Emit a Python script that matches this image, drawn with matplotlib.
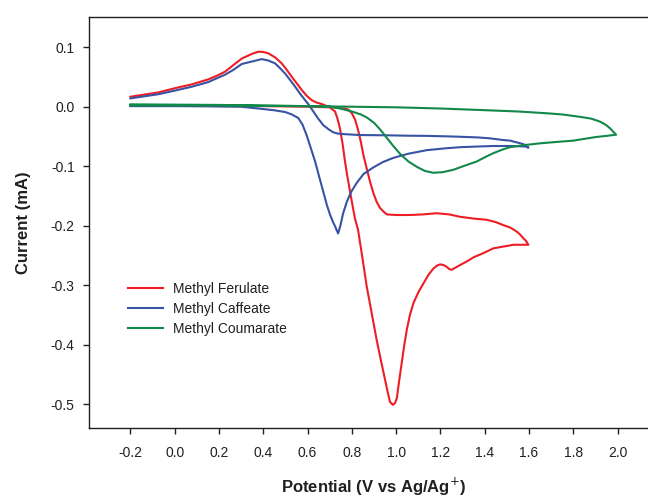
import matplotlib
matplotlib.use("Agg")
import matplotlib.pyplot as plt

# ---------------- data ----------------
ferulate_potential = [
    -0.20, 0.00, 0.20, 0.40, 0.60, 0.700, 0.724, 0.735, 0.746, 0.758, 0.769, 0.780,
    0.792, 0.803, 0.814, 0.828, 0.848, 0.867, 0.890, 0.912, 0.932, 0.950, 0.962,
    0.972, 0.985, 0.995, 1.003, 1.013, 1.025, 1.036, 1.048, 1.062, 1.078, 1.100,
    1.123, 1.145, 1.168, 1.185, 1.198, 1.213, 1.228, 1.240, 1.251, 1.270, 1.289,
    1.319, 1.350, 1.394, 1.439, 1.469, 1.500, 1.529, 1.560, 1.597,
    1.585, 1.574, 1.560, 1.545, 1.515, 1.484, 1.450, 1.409, 1.350, 1.289, 1.240,
    1.183, 1.120, 1.063, 1.000, 0.958, 0.942, 0.927, 0.912, 0.897, 0.882, 0.867,
    0.852, 0.841, 0.830, 0.815, 0.800, 0.785, 0.769, 0.740, 0.705, 0.680, 0.664,
    0.641, 0.619, 0.597, 0.574, 0.552, 0.529, 0.506, 0.483, 0.453, 0.423, 0.400,
    0.378, 0.350, 0.303, 0.265, 0.228, 0.190, 0.152, 0.077, 0.000, -0.074, -0.200,
]
ferulate_current = [
    0.002, 0.002, 0.001, 0.001, 0.000, -0.001, -0.008, -0.020, -0.036, -0.062, -0.092, -0.118,
    -0.143, -0.166, -0.188, -0.207, -0.255, -0.302, -0.348, -0.392, -0.428, -0.459, -0.480,
    -0.496, -0.501, -0.498, -0.490, -0.462, -0.431, -0.402, -0.375, -0.350, -0.330, -0.312,
    -0.297, -0.283, -0.272, -0.267, -0.265, -0.266, -0.269, -0.273, -0.274, -0.270, -0.266,
    -0.260, -0.253, -0.246, -0.238, -0.236, -0.234, -0.232, -0.232, -0.232,
    -0.225, -0.221, -0.215, -0.210, -0.203, -0.199, -0.194, -0.190, -0.188, -0.185, -0.181,
    -0.179, -0.181, -0.182, -0.182, -0.181, -0.176, -0.170, -0.160, -0.145, -0.126, -0.104,
    -0.081, -0.060, -0.042, -0.022, -0.011, -0.005, -0.003, -0.002, 0.000, 0.002, 0.0045,
    0.007, 0.011, 0.018, 0.028, 0.039, 0.050, 0.062, 0.073, 0.083, 0.0897, 0.092,
    0.0925, 0.089, 0.081, 0.070, 0.059, 0.052, 0.046, 0.0376, 0.031, 0.024, 0.0168,
]

caffeate_potential = [
    -0.20, 0.00, 0.20, 0.30, 0.378, 0.450, 0.500, 0.529, 0.558, 0.577, 0.596, 0.615,
    0.634, 0.652, 0.671, 0.687, 0.702, 0.714, 0.724, 0.733, 0.738, 0.748, 0.760,
    0.777, 0.797, 0.822, 0.853, 0.897, 0.940, 0.987, 1.055, 1.138, 1.220, 1.289,
    1.360, 1.439, 1.520, 1.590, 1.597,
    1.582, 1.566, 1.545, 1.515, 1.484, 1.420, 1.364, 1.250, 1.138, 1.055, 0.950,
    0.837, 0.762, 0.735, 0.716, 0.695, 0.671, 0.648, 0.626, 0.604, 0.589, 0.566,
    0.544, 0.521, 0.498, 0.475, 0.453, 0.420, 0.393, 0.360, 0.303, 0.265, 0.228,
    0.152, 0.077, 0.000, -0.074, -0.200,
]
caffeate_current = [
    0.001, 0.001, 0.0005, 0.000, -0.003, -0.006, -0.009, -0.013, -0.019, -0.030, -0.048, -0.070,
    -0.092, -0.117, -0.143, -0.165, -0.182, -0.193, -0.201, -0.209, -0.213, -0.200, -0.180,
    -0.160, -0.143, -0.128, -0.113, -0.102, -0.093, -0.086, -0.079, -0.073, -0.070, -0.068,
    -0.067, -0.066, -0.066, -0.067, -0.069,
    -0.064, -0.062, -0.060, -0.057, -0.056, -0.053, -0.0515, -0.050, -0.049, -0.0487, -0.048,
    -0.0476, -0.046, -0.045, -0.043, -0.038, -0.031, -0.020, -0.008, 0.004, 0.011, 0.022,
    0.0336, 0.045, 0.056, 0.065, 0.073, 0.078, 0.080, 0.077, 0.0718, 0.062, 0.054,
    0.0415, 0.0336, 0.027, 0.021, 0.014,
]

coumarate_potential = [
    -0.20, 0.00, 0.20, 0.40, 0.60, 0.700, 0.746, 0.800, 0.840, 0.867, 0.900, 0.927,
    0.957, 0.987, 1.017, 1.055, 1.093, 1.130, 1.168, 1.210, 1.258, 1.310, 1.364,
    1.400, 1.439, 1.480, 1.514, 1.550, 1.590, 1.650, 1.730, 1.800, 1.850, 1.900,
    1.950, 1.993,
    1.980, 1.965, 1.945, 1.920, 1.880, 1.830, 1.750, 1.680, 1.550, 1.379, 1.200,
    1.000, 0.800, 0.600, 0.400, 0.200, 0.000, -0.200,
]
coumarate_current = [
    0.004, 0.0035, 0.003, 0.002, 0.001, 0.000, -0.003, -0.008, -0.013, -0.018, -0.027, -0.038,
    -0.052, -0.066, -0.079, -0.092, -0.101, -0.108, -0.111, -0.110, -0.106, -0.099, -0.092,
    -0.085, -0.078, -0.072, -0.068, -0.066, -0.064, -0.0615, -0.059, -0.057, -0.054, -0.051,
    -0.049, -0.047,
    -0.042, -0.036, -0.030, -0.025, -0.020, -0.017, -0.013, -0.011, -0.008, -0.0055, -0.003,
    -0.001, 0.000, 0.001, 0.0015, 0.002, 0.002, 0.002,
]

series_names = ["Methyl Ferulate", "Methyl Caffeate", "Methyl Coumarate"]
series_colors = ["#EE1D25", "#3852A4", "#12884A"]

x_ticks = [-0.2, 0.0, 0.2, 0.4, 0.6, 0.8, 1.0, 1.2, 1.4, 1.6, 1.8, 2.0]
x_tick_labels = ["-0.2", "0.0", "0.2", "0.4", "0.6", "0.8", "1.0", "1.2", "1.4", "1.6", "1.8", "2.0"]
y_ticks = [0.1, 0.0, -0.1, -0.2, -0.3, -0.4, -0.5]
y_tick_labels = ["0.1", "0.0", "-0.1", "-0.2", "-0.3", "-0.4", "-0.5"]

# ---------------- figure ----------------
plt.rcParams["font.family"] = ["Liberation Sans", "DejaVu Sans"]
plt.rcParams["axes.unicode_minus"] = False

fig = plt.figure(figsize=(6.48, 4.97), dpi=100)
ax = fig.add_axes([0.1366, 0.1382, 1.0 - 0.1366, 0.9652 - 0.1382])

text_color = "#231F20"
xs = [ferulate_potential, caffeate_potential, coumarate_potential]
ys = [ferulate_current, caffeate_current, coumarate_current]
for xv, yv, name, col in zip(xs, ys, series_names, series_colors):
    ax.plot(xv, yv, color=col, lw=1.5, label=name, solid_joinstyle="round")

ax.set_xlim(-0.389, 2.137)
ax.set_ylim(-0.5405, 0.1503)

ax.set_xticks(x_ticks)
ax.set_xticklabels(x_tick_labels)
ax.set_yticks(y_ticks)
ax.set_yticklabels(y_tick_labels)

ax.spines["right"].set_visible(False)
for s in ["left", "bottom", "top"]:
    ax.spines[s].set_linewidth(1.0)
    ax.spines[s].set_color(text_color)

ax.tick_params(axis="both", direction="out", length=4, width=1.0, color=text_color,
               labelsize=10, labelcolor=text_color)
ax.tick_params(axis="x", pad=9)
ax.tick_params(axis="y", pad=6)

ax.set_xlabel("Potential (V vs Ag/Ag$^{+}$)", fontsize=12, fontweight="bold", color=text_color)
ax.set_ylabel("Current (mA)", fontsize=12, fontweight="bold", color=text_color)
ax.xaxis.set_label_coords(0.510, -0.116)
ax.yaxis.set_label_coords(-0.103, 0.5)

leg = ax.legend(loc="upper left", bbox_to_anchor=(0.071, 0.356), frameon=False,
                fontsize=10, handlelength=2.5, handletextpad=0.7, labelspacing=0.42,
                borderpad=0.0, borderaxespad=0.0)
for t in leg.get_texts():
    t.set_color(text_color)

fig.savefig("out.png", dpi=100)
